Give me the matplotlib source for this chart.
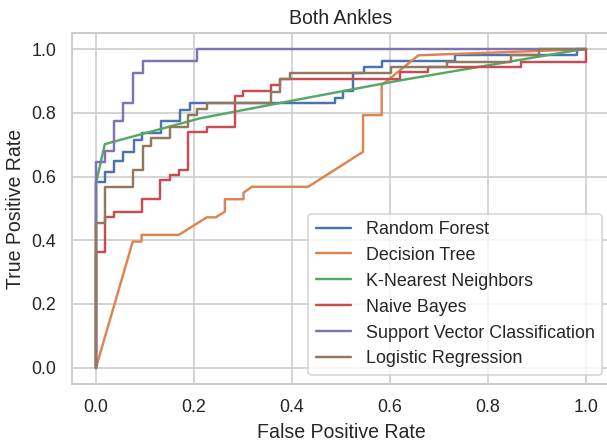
import matplotlib
matplotlib.use("Agg")
import matplotlib.pyplot as plt
import seaborn as sns

# ROC curve vertices (fpr, tpr)
rf_fpr = [0, 0, 0.018, 0.018, 0.037, 0.037, 0.056, 0.056, 0.077, 0.077, 0.094, 0.094,
          0.133, 0.133, 0.171, 0.171, 0.192, 0.192, 0.488, 0.488, 0.505, 0.505, 0.525, 0.525,
          0.546, 0.546, 0.583, 0.583, 0.733, 0.733, 0.981, 0.981, 1.0]
rf_tpr = [0, 0.584, 0.584, 0.615, 0.615, 0.649, 0.649, 0.678, 0.678, 0.715, 0.715, 0.736,
          0.736, 0.774, 0.774, 0.81, 0.81, 0.832, 0.832, 0.848, 0.848, 0.869, 0.869, 0.925,
          0.925, 0.943, 0.943, 0.962, 0.962, 0.982, 0.982, 1.0, 1.0]

dt_fpr = [0, 0.075, 0.093, 0.093, 0.169, 0.226, 0.244, 0.263, 0.263, 0.301, 0.301, 0.318,
          0.433, 0.545, 0.545, 0.583, 0.583, 0.658, 1.0]
dt_tpr = [0, 0.396, 0.396, 0.417, 0.417, 0.472, 0.472, 0.49, 0.529, 0.529, 0.549, 0.568,
          0.568, 0.678, 0.793, 0.793, 0.887, 0.981, 1.0]

knn_fpr = [0, 0, 0.018, 0.212, 0.416, 0.62, 0.981, 1.0]
knn_tpr = [0, 0.58, 0.702, 0.783, 0.843, 0.902, 0.997, 1.0]

nb_fpr = [0, 0, 0.018, 0.018, 0.037, 0.037, 0.094, 0.094, 0.131, 0.131, 0.151, 0.151,
          0.17, 0.17, 0.188, 0.188, 0.226, 0.226, 0.283, 0.283, 0.301, 0.301, 0.358, 0.358,
          0.376, 0.376, 0.62, 0.62, 0.678, 0.678, 0.868, 0.868, 1.0, 1.0]
nb_tpr = [0, 0.362, 0.362, 0.474, 0.474, 0.49, 0.49, 0.53, 0.53, 0.589, 0.589, 0.605,
          0.605, 0.621, 0.621, 0.74, 0.74, 0.757, 0.757, 0.853, 0.853, 0.87, 0.87, 0.887,
          0.887, 0.906, 0.906, 0.927, 0.927, 0.943, 0.943, 0.961, 0.961, 1.0]

svc_fpr = [0, 0, 0.018, 0.018, 0.037, 0.037, 0.056, 0.056, 0.075, 0.075, 0.095, 0.095,
           0.207, 0.207, 1.0]
svc_tpr = [0, 0.645, 0.645, 0.68, 0.68, 0.775, 0.775, 0.83, 0.83, 0.926, 0.926, 0.963,
           0.963, 1.0, 1.0]

lr_fpr = [0, 0, 0.018, 0.018, 0.075, 0.075, 0.095, 0.095, 0.113, 0.113, 0.151, 0.151,
          0.188, 0.188, 0.207, 0.207, 0.226, 0.226, 0.358, 0.358, 0.376, 0.376, 0.396, 0.396,
          0.603, 0.603, 0.716, 0.716, 0.847, 0.847, 0.904, 0.904, 1.0]
lr_tpr = [0, 0.453, 0.453, 0.566, 0.566, 0.622, 0.622, 0.697, 0.697, 0.72, 0.72, 0.755,
          0.755, 0.793, 0.793, 0.812, 0.812, 0.83, 0.83, 0.867, 0.867, 0.906, 0.906, 0.925,
          0.925, 0.943, 0.943, 0.961, 0.961, 0.982, 0.982, 1.0, 1.0]

models = ['Random Forest', 'Decision Tree', 'K-Nearest Neighbors', 'Naive Bayes',
          'Support Vector Classification', 'Logistic Regression']
curves = [(rf_fpr, rf_tpr), (dt_fpr, dt_tpr), (knn_fpr, knn_tpr),
          (nb_fpr, nb_tpr), (svc_fpr, svc_tpr), (lr_fpr, lr_tpr)]

sns.set_theme(style="whitegrid")
plt.rcParams['font.family'] = ['Liberation Sans', 'DejaVu Sans']

dpi = 117
fig = plt.figure(figsize=(607 / dpi, 441 / dpi), dpi=dpi)
ax = fig.add_axes([0.1178, 0.1302, 0.888, 0.7943])
for name, (fpr, tpr) in zip(models, curves):
    ax.plot(fpr, tpr, label=name, lw=1.5)

ax.set_title('Both Ankles', fontsize=12)
ax.set_xlabel('False Positive Rate', fontsize=12)
ax.set_ylabel('True Positive Rate', fontsize=12)
ax.legend(loc='lower right', fontsize=11)
fig.savefig("out.png", dpi=dpi)
